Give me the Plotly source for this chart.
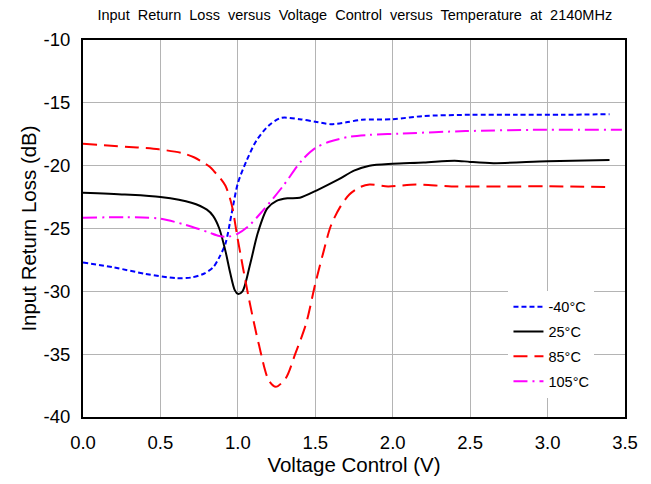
import plotly.graph_objects as go

# -40°C
v_m40 = [0, 0.2, 0.4, 0.6, 0.7, 0.78, 0.84, 0.88, 0.92, 0.96, 1.0, 1.06, 1.12, 1.2, 1.28, 1.4, 1.5, 1.6, 1.7, 1.8, 2.0, 2.2, 2.5, 2.8, 3.1, 3.4]
rl_m40 = [-27.7, -28.1, -28.6, -28.95, -28.9, -28.6, -28.1, -27.3, -26.2, -23.8, -21.4, -19.5, -18.0, -16.8, -16.2, -16.3, -16.5, -16.7, -16.55, -16.35, -16.3, -16.05, -15.95, -15.95, -15.95, -15.9]

# 25°C
v_25 = [0, 0.27, 0.5, 0.7, 0.8, 0.84, 0.88, 0.92, 0.95, 0.98, 1.0, 1.03, 1.08, 1.13, 1.19, 1.25, 1.32, 1.4, 1.52, 1.65, 1.75, 1.85, 2.0, 2.2, 2.4, 2.5, 2.65, 3.0, 3.4]
rl_25 = [-22.15, -22.3, -22.5, -22.95, -23.5, -24.0, -25.0, -26.8, -28.5, -29.9, -30.2, -30.0, -27.8, -25.3, -23.4, -22.8, -22.6, -22.55, -21.9, -21.1, -20.4, -20.0, -19.85, -19.75, -19.6, -19.7, -19.8, -19.65, -19.55]

# 85°C
v_85 = [0, 0.16, 0.35, 0.49, 0.64, 0.72, 0.77, 0.82, 0.85, 0.88, 0.92, 0.96, 1.0, 1.07, 1.135, 1.2, 1.245, 1.31, 1.37, 1.44, 1.5, 1.55, 1.6, 1.66, 1.72, 1.79, 1.85, 1.97, 2.15, 2.38, 2.7, 3.1, 3.4]
rl_85 = [-18.25, -18.4, -18.55, -18.7, -19.0, -19.35, -19.7, -20.1, -20.5, -20.9, -21.6, -23.1, -25.9, -30.5, -34.2, -37.1, -37.6, -36.9, -35.0, -32.6, -29.4, -27.0, -24.8, -23.3, -22.3, -21.7, -21.5, -21.65, -21.5, -21.65, -21.65, -21.65, -21.7]

# 105°C
v_105 = [0, 0.27, 0.49, 0.66, 0.81, 0.88, 0.94, 1.0, 1.07, 1.16, 1.29, 1.415, 1.5, 1.59, 1.72, 1.85, 2.04, 2.47, 2.9, 3.48]
rl_105 = [-24.15, -24.1, -24.2, -24.7, -25.3, -25.6, -25.65, -25.4, -24.8, -23.6, -21.65, -19.55, -18.6, -18.1, -17.7, -17.55, -17.45, -17.25, -17.15, -17.15]

x_ticks = [0, 0.5, 1.0, 1.5, 2.0, 2.5, 3.0, 3.5]
x_tick_text = ["0.0", "0.5", "1.0", "1.5", "2.0", "2.5", "3.0", "3.5"]
y_ticks = [-10, -15, -20, -25, -30, -35, -40]
y_tick_text = ["-10", "-15", "-20", "-25", "-30", "-35", "-40"]

series = [
    ("-40°C", v_m40, rl_m40, "#0000FF", "5px,3px"),
    ("25°C", v_25, rl_25, "#000000", "solid"),
    ("85°C", v_85, rl_85, "#FF0000", "14px,7px"),
    ("105°C", v_105, rl_105, "#FF00FF", "14px,5px,2px,5px"),
]

fig = go.Figure()
for i, (name, xs, ys, col, dash) in enumerate(series):
    fig.add_trace(go.Scatter(
        x=xs, y=ys, name=name, mode="lines", legendgroup=f"g{i}",
        line=dict(color=col, width=2, dash=dash, shape="spline", smoothing=0.8),
    ))

font_family = "Liberation Sans, Arial, sans-serif"
fig.update_layout(
    width=651, height=484,
    margin=dict(l=83, r=26, t=40, b=64),
    paper_bgcolor="white", plot_bgcolor="white",
    font=dict(family=font_family, color="black"),
    title=dict(text="Input  Return  Loss  versus  Voltage  Control  versus  Temperature  at  2140MHz",
               x=0.545, xanchor="center", y=0.97, yanchor="middle",
               font=dict(size=14.5, family=font_family)),
    showlegend=True,
    legend=dict(x=0.785, y=0.335, xanchor="left", yanchor="top",
                bgcolor="white", borderwidth=0, font=dict(size=14.5),
                traceorder="grouped", tracegroupgap=3, itemwidth=30),
)
fig.update_xaxes(range=[0, 3.5], tickvals=x_ticks, ticktext=x_tick_text,
                 showgrid=True, gridcolor="#b4b4b4", gridwidth=1,
                 showline=True, linecolor="black", linewidth=2, mirror=True,
                 ticks="", zeroline=False, tickfont=dict(size=18.5), ticklabelstandoff=8,
                 title=dict(text="Voltage Control (V)", font=dict(size=20.5), standoff=4))
fig.update_yaxes(range=[-40, -10], tickvals=y_ticks, ticktext=y_tick_text,
                 showgrid=True, gridcolor="#b4b4b4", gridwidth=1,
                 showline=True, linecolor="black", linewidth=2, mirror=True,
                 ticks="", zeroline=False, tickfont=dict(size=18.5), ticklabelstandoff=7,
                 title=dict(text="Input Return Loss (dB)", font=dict(size=20.5), standoff=1))

fig.write_html("out.html")
